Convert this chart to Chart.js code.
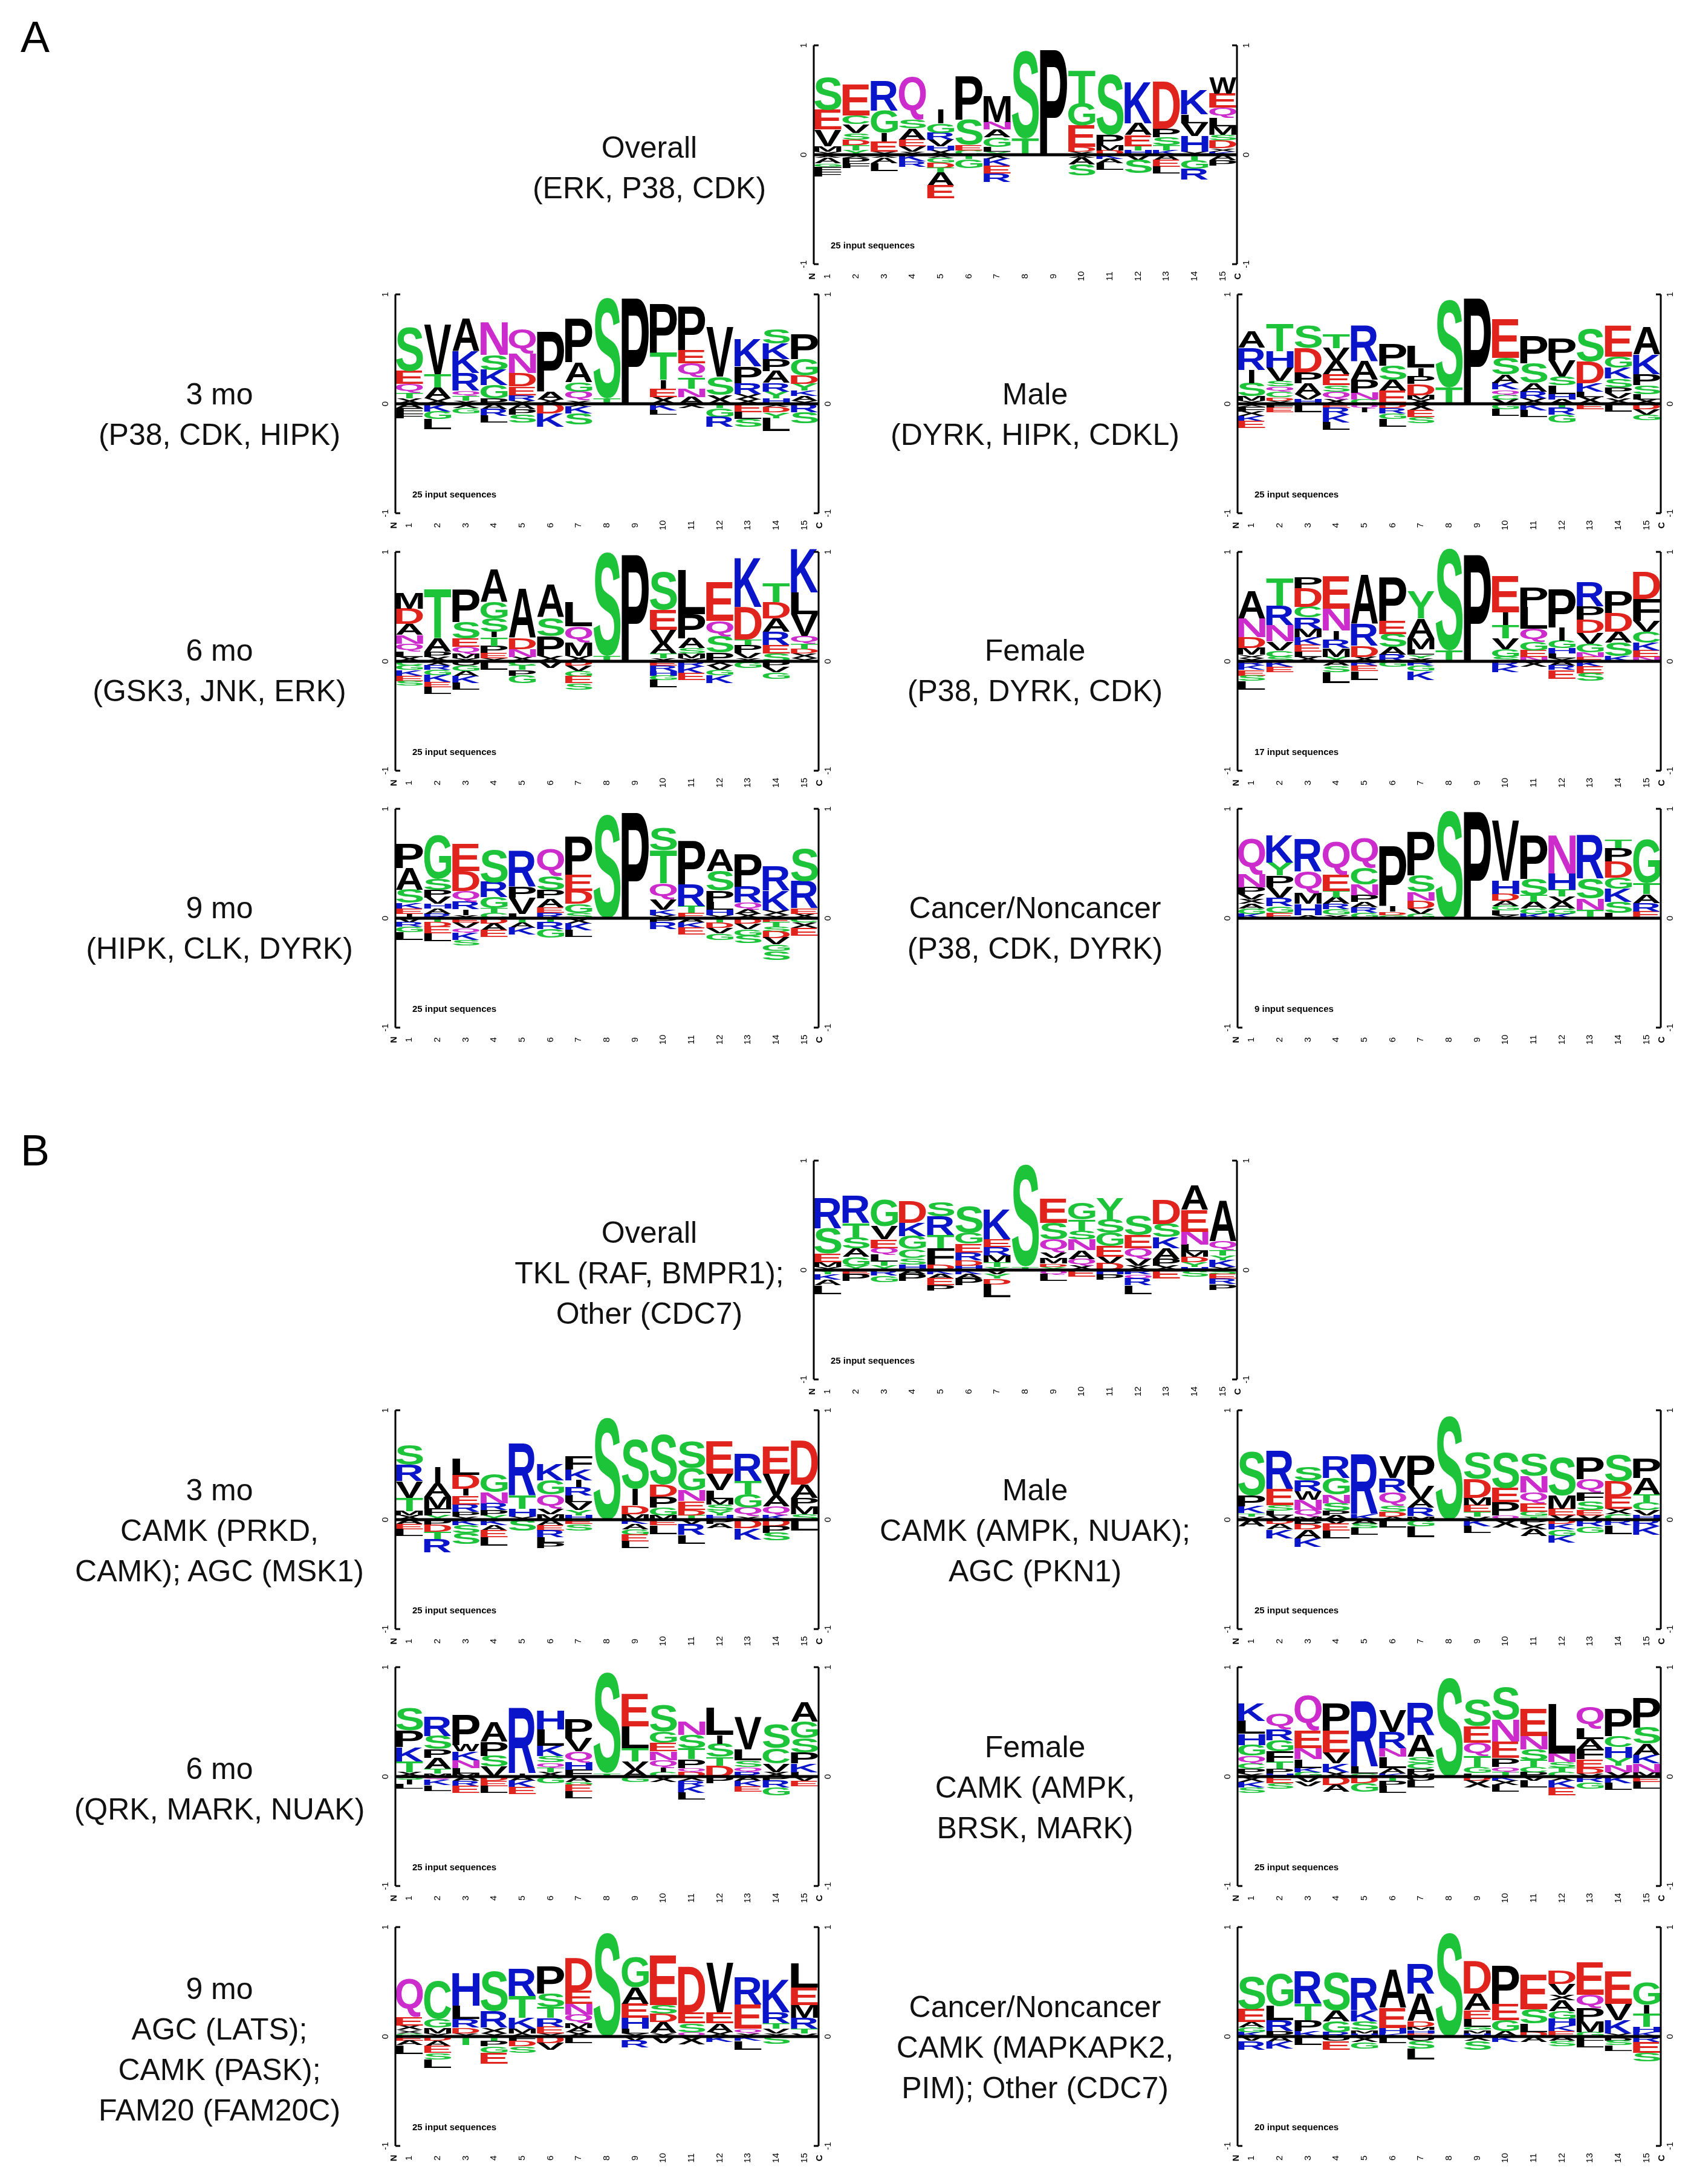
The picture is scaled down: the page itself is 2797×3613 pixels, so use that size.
<!DOCTYPE html>
<html><head><meta charset="utf-8">
<script src="https://cdn.jsdelivr.net/npm/chart.js@4.4.1/dist/chart.umd.min.js"></script>
<style>
body{margin:0;background:#fff;width:2797px;height:3613px;position:relative;overflow:hidden;font-family:"Liberation Sans",Arial,sans-serif}
canvas{position:absolute}
.t{position:absolute;font-size:50px;color:#111;text-align:center;white-space:nowrap;transform:translate(-50%,-50%)}
.p{position:absolute;font-size:72px;color:#000}
</style></head><body>
<div class="p" style="left:34px;top:20px">A</div>
<div class="p" style="left:34px;top:1862px">B</div>
<script>
const positions = ["1","2","3","4","5","6","7","8","9","10","11","12","13","14","15"];

// Positive stacks are listed top -> bottom; negative stacks baseline -> outward. Heights in hundredths of the -1..1 axis.
const aOverallPos = ["S30 E18 V15 M5 x3","E28 C8 V8 S6 D5 T5 Y4","R27 G20 I8 E9 x3","Q40 S8 A10 E6 V5 x3","I13 G9 R6 V6 H4 x4","P40 S23 E5 C4","M24 N7 A7 G9 L4 Y3","S80 T15","P96","T30 G20 E20 D4 x3","S55 P9 M5 D4","K38 A11 E10 T4 H4","D43 P8 S7 T5 K4","K22 L8 V12 H14 x3","W15 E13 Q9 L8 M8 S5 D7 x3 K3"];
const aOverallNeg = ["x3 A5 G3 F5 F4","X3 P5 F4","x3 A5 L7","K6 R5","x3 G4 D5 T4 A12 E12","T4 G8","x4 K6 E7 R8","","","x3 A6 S10","K4 A4 L6","V5 S12","A5 E6 L6","T5 G8 R10","A5 P5"];
const a3moPos = ["S40 E12 Q8 T5 X5","V45 T12 A10 x5","A30 K20 R16 Q5 T4 x3","N30 S14 K14 G12 P5","Q22 N18 D12 E8 R5 x3","P55 A7 x4","P40 A18 G9 Q8 x3","S92 T5","P97","P45 T25 I8 E8 x6","P40 E12 Q13 T10 N8 A6","V45 S17 x8","K25 P15 R10 X5 x4","S13 K14 P11 A11 R8 Y6 H5","P23 G15 D8 Y6 K5 A4 x3"];
const a3moNeg = ["A4 F5 F4","K7 G7 L9","x4 G5","A5 R6 L6","A5 P5 S7","D9 K12","x3 K6 S10","","","K6 L4","x4","T4 G8 R9","E8 L6 S7","x3 D5 Y5 L12","R8 S10"];
const aMalePos = ["A15 R20 I12 S12 M4 x3","T25 H15 V12 S5 Q5 C5 D3 x3","S20 D22 P10 A10 V5 H4","T13 V12 A12 E10 S6 Q7 x4","R33 A17 P12 N6 C4","P20 S13 A10 E12","L20 I8 P7 D10 M4 x4","S80 T15","P97","E35 S15 A8 K6 Q5 C4 V4","P25 S18 A8 R6 x5","P20 V15 S8 L8 H5 A4","S30 D20 K8 L5 X6","E28 G10 K10 S8 P5 V5 X5","A25 K18 P10 S8 L5 x4"];
const aMaleNeg = ["x3 F4 X4 K5 E6","F4 E4","L8","E4 R6 K7 L7","Q4 I4","D4 R5 G5 L7","X6 E6 S6","","","G5 L6","K6 L6","T4 R6 G7","E5","L7","D5 V5 G5"];
const a6moPos = ["M14 D14 A10 N8 Q7 L5 x4","T45 A12 P5 x4","P30 S15 E8 Q6 M4 x3","A30 G15 S12 I5 T8 P6 E5 x3","A45 D10 N7 X4","A30 S17 P18 x5","L22 Q15 M12 x5","S95 T5","P98","S35 E18 V13 A9 T4 x3","L40 P22 A9 S5 M4 x3","E35 Q14 S15 P8","K45 D30 T5 P7 V5 x3","T17 D15 A12 R12 E8 S7","K40 L20 V20 Q7 T5 D4 X4 x3"];
const a6moNeg = ["C4 G4 K5 E5 S4","X4 R4 G5 K6 E5 L6","O4 G5 A5 K6 L6","L8","C4 T4 P5 G7","V6","D4 V5 G5 E6 S6","","","E4 R5 H4 G4 L7","R5 K6 E6","X4 V4 G5 K7","G6","P5 V5 G6",""];
const aFemalePos = ["A25 N17 D10 M6 x3 x3","T25 R18 N15 V8 C6 S4","P10 D17 C10 R10 M8 K7 E6 L5 x4","E30 N20 I8 R8 M8 Y4","A45 R20 D10 x4","P40 E12 S12 A7 R6","Y25 A18 M10 L5 Y3 x3","S93 T10","P98","E33 I12 T12 V10 G7 S4","P18 L20 Q12 G8 E6 N4","P35 I12 G7 H5 L4 x3","R22 P12 D12 V10 G8 N4 E4","P20 D17 A10 S12 K5","D25 F20 V10 C10 K7 E6 N4"];
const aFemaleNeg = ["R4 K4 E5 S5 L8","K5 E5","","A4 S6 L10","R4 E5 L8","G5","R4 G5 K8","","","R5 K5","X5","A4 R4 E8","K5 E6 S7","",""];
const a9moPos = ["P22 A20 S12 K5 E5 I4","G40 S10 P7 V6 H4 A5 R4","E25 D18 Q10 R7 I5 x3","S30 R14 G10 T4 C5","R33 P10 V15 L4","Q25 S12 P8 A8 E5 R5","P35 E15 D12 G8 S5","S95","P97","S20 T30 Q15 V9 K5 x3","P40 R20 T6 E5","A20 S18 P10 L7 H5 x3","P30 R15 Q6 A4 x4","R22 K18 X4 x3","S30 R25 E5 x4"];
const a9moNeg = ["V4 R4 G5 L7","T4 D4 E6 L7","E4 V5 Q5 K6 S5","D5 A6 E6","T4 A5 K6","T4 R6 G8","X5 K6 L6","","","P4 R6","A4 K5 E6","T4 D5 V5 G6","D5 V5 G6 S7","E4 T4 S4 D6 V6 G6 S8","C4 X5 E7"];
const aCancerPos = ["Q33 N12 P6 V5 X4 A4 G5 K4","K25 Y12 P10 V10 R8 G6 E5","R30 Q20 M10 H10 A3","Q30 E15 T6 A6 R5 G5 x3","Q28 C15 N10 P6 A5 R5 G5","P55 I5 D3 G3","P40 S15 N8 D7 V5 G4","S98","P98","V55 H12 D6 A5 G4 L4 x3","P40 S15 T6 A6 G5 K4","N35 H15 T6 V5 A6 G5 K4","R40 S18 N10 T8","T8 P12 D15 G10 K12 S10 L5","G40 T10 A8 R8 E6"];
const aCancerNeg = ["","","","","","","","","","","","","","",""];
const bOverallPos = ["R28 S23 E8 M4 x3","R25 T13 S10 A8 G8 Y4","G25 V12 E8 Q6 L6 T4 Y4","D20 K12 G12 C8 S6 H5","S13 R17 T12 F15 D5","S25 G10 E8 R7 D5 H4","K27 E7 R8 M6 T4 Y3","S93 T3","E22 S15 Q12 V5 M5 D3 Y3","G15 T10 S8 N10 A8 Q6 x4","Y20 S12 G12 E10 V6 D6","S18 E12 Q10 V6 x4","D22 S12 K10 A10 P6 x4","A22 E20 N12 L6 M5 D5 Y4 H3","A37 Q8 T5 Y4 K6 x3"];
const bOverallNeg = ["Y4 K5 A5 L8","E4 P6","R5 G6","A4 P6","K4 A4 E6 P5","K4 A4 P6","V4 Y4 D5 L12","","Q4 L6","E6","H4 P5","R4 Q4 R6 L8","E8","S6","S4 E4 R5 P5"];
const b3moPos = ["S18 R15 V15 T12 M4 x4","I15 A12 M11 F6 Y4","L15 D13 I6 E8 R7 P4 x3","G17 N10 R6 P5 Y4","R48 T12 H7 x3","K15 G13 Q13 V5 M5","F12 K10 I6 R8 L6 V7 Y5 H4","S93","S45 I15 D8 M5","S46 D11 P10 G7 M4","S25 G20 N10 E8 D5 T4","E30 V15 L8 M5 S6 Y4 H4","R25 T12 G12 Q8 x3","E25 V20 A10 Q8 K4","D40 A12 P8 M7 S5"];
const b3moNeg = ["A4 E5 L6","P5 D6 T7 R12","K5 S7 S10","K5 A5 E6 L8","S10","A5 E5 R6 L5 P5","E4 S6","","K4 A5 G5 E6 L6","E5 L8","V4 R10 L8","P4 A4","D8 K10","D6 P6 S7","L10"];
const bMalePos = ["S40 P10 K6 T3 V3","R35 E15 S5 L4 V4","S12 R10 W8 N9 Q6 M3","R20 G15 N8 S7 P4 A4","R55 K5","V20 R13 Q12 S6 D4 A3","P28 V12 A8 R8 M3","S95","S25 D17 M7 E6 T4 V3","S33 E13 P12 Q4","S20 N15 Q10 E8 G4 T3","S35 M12 E6 V4","P20 Q12 F8 S8 E5 V4","S25 D14 E11 X5 C5","P18 A15 T7 C7 V5 H4"];
const bMaleNeg = ["A6","D4 A5 K8","B4 D5 A8 K8","V4 E6 L7","A4 S4 L6","L7","G6 L10","","K6 L6","X7","P4 X5 A6","D4 K5 G6 K6","R6 G6","R5 L8","R6 K8"];
const b6moPos = ["S20 P15 K13 T10 x4","R18 S12 P8 A10 T4 M3","P28 W6 K8 N7 L5 M3","A18 P13 S10 V9","R60 I3","H17 L15 K9 S6 Q5 T4 X4","P18 V12 Q10 H7 F6","S92 T3","E30 L20 T12 V8 A6","S25 G10 E8 N8 Q7 I4 C4","N12 S12 T10 P8 Q4 D4","L25 I8 S12 T8 D10","V30 L10 S6 Q5 R4","S22 C14 V8 x4","A18 G15 S13 P10 K8 L4"];
const b6moNeg = ["S3 I4 L4","Q3 K5 L5","A4 R5 E6","D4 E5 L6","A4 K6 E6","G6","A5 G3 E6 L6","","G5","X5","X4 R5 K6 L6","P6","A4 K5 E5","P4 R6 G7","V4 E5"];
const bFemalePos = ["K16 L12 H10 G10 Q7 C5 P4 X3","Q15 R10 G10 F10 T6 P4 H3","Q32 E16 N10 L8 K4 G4","P25 E20 V10 K8 x4","R60 L6 C3","V20 R15 N8 L10 A5 K3","R30 A20 S6 C5 P4 M3","S90","S25 E15 Q12 T10 G6 L3","S30 N20 E15 P8 Q5 T4","E25 N12 S10 T6 C5 P4","L45 N8 S5 T4 C4","Q20 L10 A9 F9 E8 D5 V3","P25 C10 H10 Y7 N6 V4","P27 S15 A10 K8 N8 M4"];
const bFemaleNeg = ["X5 K5 S5","E6 S5","V5 V4","D8 A6","D6 G8","T4 P5 L6","O4 L6","","D4 X6","K4 X4 L6","V4 L6","X4 K6 E7","R5 G6","K6 L6","E5 L6"];
const b9moPos = ["Q35 E8 x4 x3 G3","C35 G8 M5 x3","H30 L12 R8 D5 x3","S36 R15 x5 x3","R25 T20 K10 M4 A3","P25 S12 T10 R8 E6 x3","D30 E12 N10 Q8 M4 A4 x4","S95","G28 A15 E13 H10 L4 x3","E45 S8 D8 A10 x3","D42 E10 S8 Q4","V45 E10 A8 x4","R25 E22 Q4 x3","K30 R10 T5 V4 x3","L22 E16 M12 R10 T4 V3"];
const b9moNeg = ["E4 A4 L8","D4 A5 E6 S6 L8","T8","T4 P5 G6 E10","F4 D5 S6","D6 V6","L6","","V4 R6","V6","X7","K5","K4 L8","S7",""];
const bCancerPos = ["S30 E12 A5 G4 K4","G30 L13 R10 P5","R30 T15 P10 K5","S35 A10 G10 R4","R30 K10 S8 M3 H3","A35 E18 H5 K3","R27 A25 D5 M3 H3 E3","S95","D30 A15 E8 L7 G3 M3 H3","P35 E15 G10 A5","E32 S13 L8 D4","D12 V10 X5 A10 G7 H6 K5 E5","E30 Q12 P12 M10 G4","E30 V15 K12 x3","G20 I8 T12 H5 K4"];
const bCancerNeg = ["V4 R8","A5 K6","L8","O4 E8","X5 G6","L6","O4 S7 L10","","X4 S8","K5","A5","A4 S5","L4 L6","B4 S4 L5","R5 E10 S8"];

const panels = [
 {pos:aOverallPos,neg:aOverallNeg,n:25,x:1346,y:75},
 {pos:a3moPos,neg:a3moNeg,n:25,x:654,y:487},
 {pos:aMalePos,neg:aMaleNeg,n:25,x:2047,y:487},
 {pos:a6moPos,neg:a6moNeg,n:25,x:654,y:913},
 {pos:aFemalePos,neg:aFemaleNeg,n:17,x:2047,y:913},
 {pos:a9moPos,neg:a9moNeg,n:25,x:654,y:1338},
 {pos:aCancerPos,neg:aCancerNeg,n:9,x:2047,y:1338},
 {pos:bOverallPos,neg:bOverallNeg,n:25,x:1346,y:1920},
 {pos:b3moPos,neg:b3moNeg,n:25,x:654,y:2333},
 {pos:bMalePos,neg:bMaleNeg,n:25,x:2047,y:2333},
 {pos:b6moPos,neg:b6moNeg,n:25,x:654,y:2758},
 {pos:bFemalePos,neg:bFemaleNeg,n:25,x:2047,y:2758},
 {pos:b9moPos,neg:b9moNeg,n:25,x:654,y:3188},
 {pos:bCancerPos,neg:bCancerNeg,n:20,x:2047,y:3188}
];
const labels = [
 [1074,["Overall","(ERK, P38, CDK)"],244],
 [363,["3 mo","(P38, CDK, HIPK)"],652],
 [1712,["Male","(DYRK, HIPK, CDKL)"],652],
 [363,["6 mo","(GSK3, JNK, ERK)"],1076],
 [1712,["Female","(P38, DYRK, CDK)"],1076],
 [363,["9 mo","(HIPK, CLK, DYRK)"],1502],
 [1712,["Cancer/Noncancer","(P38, CDK, DYRK)"],1502],
 [1074,["Overall","TKL (RAF, BMPR1);","Other (CDC7)"],2039],
 [363,["3 mo","CAMK (PRKD,","CAMK); AGC (MSK1)"],2465],
 [1712,["Male","CAMK (AMPK, NUAK);","AGC (PKN1)"],2465],
 [363,["6 mo","(QRK, MARK, NUAK)"],2926],
 [1712,["Female","CAMK (AMPK,","BRSK, MARK)"],2890],
 [363,["9 mo","AGC (LATS);","CAMK (PASK);","FAM20 (FAM20C)"],3290],
 [1712,["Cancer/Noncancer","CAMK (MAPKAPK2,","PIM); Other (CDC7)"],3320]
];
labels.forEach(([cx,lines,cy])=>{
  lines.forEach((s,i)=>{const d=document.createElement('div');d.className='t';d.textContent=s;
    d.style.left=cx+'px';d.style.top=(cy+i*67)+'px';document.body.appendChild(d);});
});

const COL={G:'#1dc43a',S:'#1dc43a',T:'#1dc43a',Y:'#1dc43a',C:'#1dc43a',K:'#0a14c8',R:'#0a14c8',H:'#0a14c8',D:'#e0231c',E:'#e0231c',Q:'#cc2ccc',N:'#cc2ccc'};
function parse(s){ if(!s) return []; return s.trim().split(/\s+/).map(t=>[t[0]==='x'?'X':t[0], parseInt(t.slice(1))/100]); }
function glyph(ctx,ch,x,y,w,h,color){
  if(h<1.5) return;
  if(ch==='I'){ x+=w*0.4; w*=0.2; }
  ctx.save();
  ctx.font='bold 200px "Liberation Sans", Arial, sans-serif';
  const m=ctx.measureText(ch);
  const gw=m.actualBoundingBoxLeft+m.actualBoundingBoxRight, gh=m.actualBoundingBoxAscent+m.actualBoundingBoxDescent;
  ctx.translate(x,y); ctx.scale(w/gw,h/gh);
  ctx.fillStyle=color; ctx.textBaseline='alphabetic';
  ctx.fillText(ch,m.actualBoundingBoxLeft,m.actualBoundingBoxAscent);
  ctx.restore();
}
const logoPlugin={id:'logo',afterDatasetsDraw(chart,args,opts){
  const ctx=chart.ctx, xs=chart.scales.x, ys=chart.scales.y, a=chart.chartArea;
  const cw=(a.right-a.left)/positions.length;
  const P=opts.panel;
  positions.forEach((lab,i)=>{
    const cx=xs.getPixelForValue(i), lw=cw*0.96, lx=cx-lw/2;
    let cum=0;
    parse(P.pos[i]).reverse().forEach(([ch,v])=>{
      const y0=ys.getPixelForValue(cum), y1=ys.getPixelForValue(cum+v);
      glyph(ctx,ch,lx,y1,lw,y0-y1,COL[ch]||'#000'); cum+=v;});
    cum=0;
    parse(P.neg[i]).forEach(([ch,v])=>{
      const y0=ys.getPixelForValue(-cum), y1=ys.getPixelForValue(-cum-v);
      glyph(ctx,ch,lx,y0,lw,y1-y0,COL[ch]||'#000'); cum+=v;});
  });
  ctx.save(); ctx.strokeStyle='#000'; ctx.fillStyle='#000';
  const yT=ys.getPixelForValue(1), yB=ys.getPixelForValue(-1), y0=ys.getPixelForValue(0);
  ctx.lineWidth=3;
  [[a.left,-1],[a.right,1]].forEach(([x,d])=>{
    ctx.beginPath(); ctx.moveTo(x,yT); ctx.lineTo(x,yB); ctx.stroke();
    [yT,y0,yB].forEach(y=>{ctx.beginPath();ctx.moveTo(x,y);ctx.lineTo(x-d*8,y);ctx.stroke();});
  });
  ctx.lineWidth=5; ctx.beginPath(); ctx.moveTo(a.left,y0); ctx.lineTo(a.right,y0); ctx.stroke();
  ctx.font='15px "Liberation Sans", Arial'; ctx.textAlign='center'; ctx.textBaseline='middle';
  const vt=(s,x,y)=>{ctx.save();ctx.translate(x,y);ctx.rotate(-Math.PI/2);ctx.fillText(s,0,0);ctx.restore();};
  [[yT,'1'],[y0,'0'],[yB,'-1']].forEach(([y,s])=>{vt(s,a.left-16,y);vt(s,a.right+16,y);});
  positions.forEach((lab,i)=>vt(lab,xs.getPixelForValue(i),yB+20));
  ctx.font='bold 15px "Liberation Sans", Arial';
  vt('N',a.left-2,yB+20); vt('C',a.right+2,yB+20);
  ctx.textAlign='left'; ctx.font='bold 15px "Liberation Sans", Arial';
  ctx.fillText(P.n+' input sequences',a.left+28,yB-30);
  ctx.restore();
}};
const W=700,H=362,PL=40,PR=40,PT=12,PB=44;
panels.forEach(P=>{
  const c=document.createElement('canvas');
  c.width=W+PL+PR; c.height=H+PT+PB;
  c.style.left=(P.x-PL)+'px'; c.style.top=(P.y-PT)+'px';
  c.style.width=c.width+'px'; c.style.height=c.height+'px';
  document.body.appendChild(c);
  new Chart(c,{type:'bar',
    data:{labels:positions,datasets:[{data:positions.map(()=>0),backgroundColor:'rgba(0,0,0,0)'}]},
    options:{responsive:false,animation:false,devicePixelRatio:1,
      layout:{padding:{left:PL,right:PR,top:PT,bottom:PB}},
      plugins:{legend:{display:false},tooltip:{enabled:false},logo:{panel:P}},
      scales:{x:{display:false,offset:true},y:{display:false,min:-1,max:1}}},
    plugins:[logoPlugin]});
});
</script></body></html>
